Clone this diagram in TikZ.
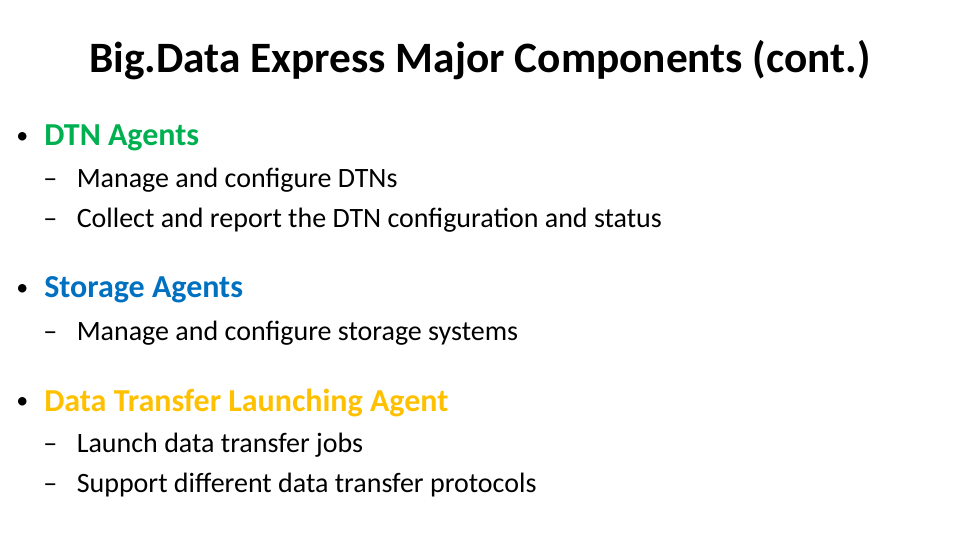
\documentclass[tikz,border=0pt]{standalone}
\usepackage{fontspec}
\setmainfont{Carlito}
\definecolor{dtngreen}{HTML}{00B050}
\definecolor{storblue}{HTML}{0070C0}
\definecolor{launchgold}{HTML}{FFC000}
\newcommand{\subdash}{–\hspace{0.7em}}
\tikzset{
  slidetitle/.style={font=\fontsize{32.5}{38}\selectfont\bfseries, anchor=center},
  topitem/.style={font=\fontsize{24}{28}\selectfont\bfseries, anchor=west, inner sep=0pt},
  subitem/.style={font=\fontsize{21}{25}\selectfont, anchor=west, inner sep=0pt},
  dot/.style={font=\fontsize{18}{22}\selectfont, anchor=west, inner sep=0pt}
}
\begin{document}
\begin{tikzpicture}[x=0.75pt,y=-0.75pt]
  \useasboundingbox (0,0) rectangle (960,540);

  \node[slidetitle] (title) at (480,60) {Big.Data Express Major Components (cont.)};

  \node[dot] (b1) at (16,138) {•};
  \node[topitem, text=dtngreen] (dtn) at (44,138) {DTN Agents};
  \node[subitem] (dtn1) at (43,180) {\subdash Manage and configure DTNs};
  \node[subitem] (dtn2) at (43,220) {\subdash Collect and report the DTN configuration and status};

  \node[dot] (b2) at (16,290) {•};
  \node[topitem, text=storblue] (stor) at (44,290) {Storage Agents};
  \node[subitem] (stor1) at (43,333) {\subdash Manage and configure storage systems};

  \node[dot] (b3) at (16,403) {•};
  \node[topitem, text=launchgold] (launch) at (44,403) {Data Transfer Launching Agent};
  \node[subitem] (launch1) at (43,445) {\subdash Launch data transfer jobs};
  \node[subitem] (launch2) at (43,485) {\subdash Support different data transfer protocols};
\end{tikzpicture}
\end{document}
